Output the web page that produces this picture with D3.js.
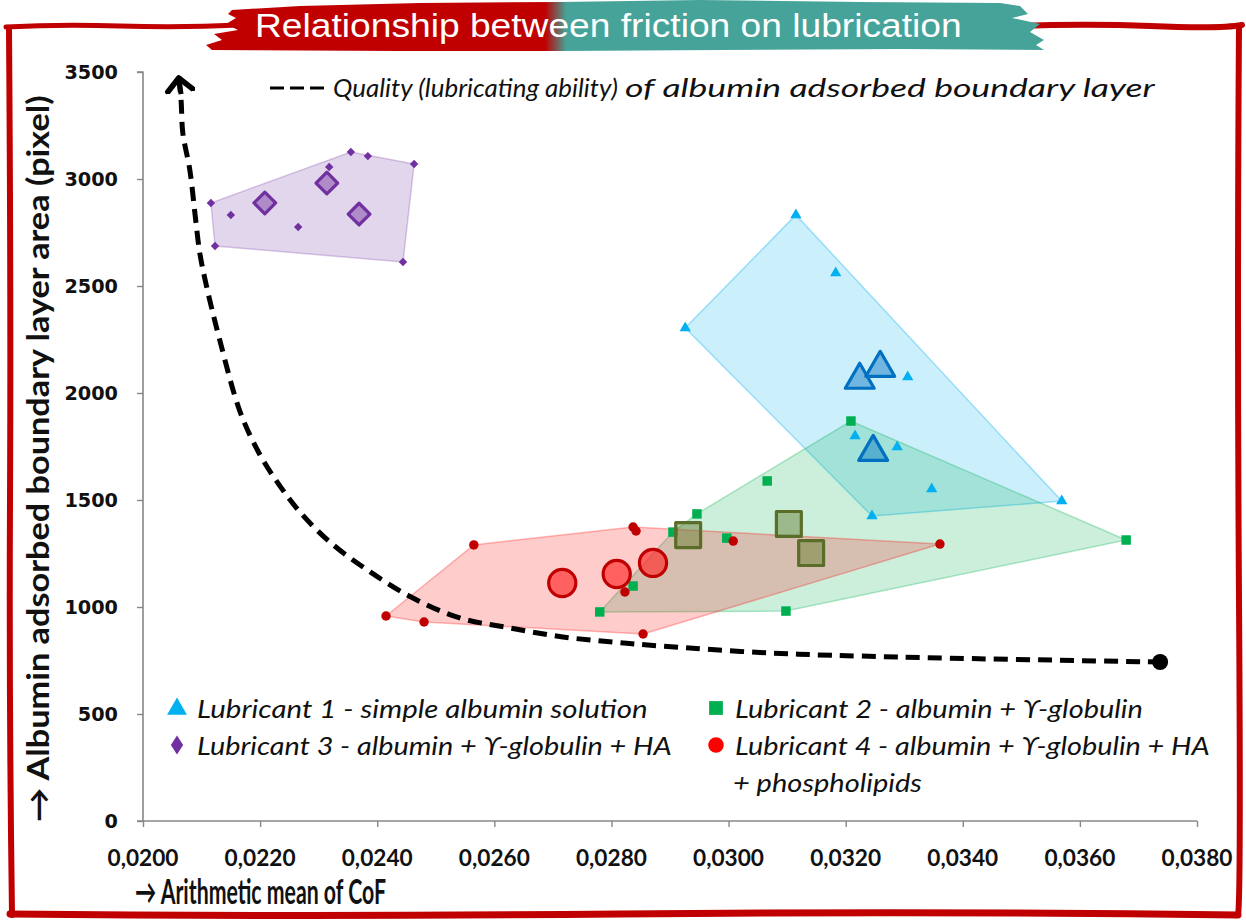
<!DOCTYPE html>
<html>
<head>
<meta charset="utf-8">
<script src="https://cdn.jsdelivr.net/npm/d3@7"></script>
<style>
  html, body { margin: 0; padding: 0; background: #fff; }
  svg { display: block; }
</style>
</head>
<body>
<svg id="chart" width="1246" height="920"></svg>
<script>
// ---- Data: arithmetic mean of CoF (x) vs albumin boundary layer area in pixels (y)
const lub1X = [0.03115, 0.03183, 0.02926, 0.03306, 0.03216, 0.03288, 0.03347, 0.03245, 0.03569];
const lub1Y = [2832, 2561, 2304, 2075, 1799, 1748, 1551, 1425, 1495];
const lub1MeanX = [0.03224, 0.03259, 0.03247];
const lub1MeanY = [2061, 2117, 1724];

const lub2X = [0.03209, 0.03066, 0.02946, 0.02905, 0.02997, 0.02837, 0.02780, 0.03098, 0.03679];
const lub2Y = [1869, 1589, 1435, 1350, 1322, 1098, 977, 981, 1313];
const lub2MeanX = [0.02931, 0.03103, 0.03141];
const lub2MeanY = [1336, 1388, 1252];

const lub3X = [0.02116, 0.02123, 0.02150, 0.02265, 0.02318, 0.02355, 0.02384, 0.02463, 0.02444];
const lub3Y = [2888, 2687, 2832, 2776, 3056, 3126, 3107, 3070, 2612];
const lub3MeanX = [0.02208, 0.02314, 0.02369];
const lub3MeanY = [2888, 2981, 2836];

const lub4X = [0.02415, 0.02480, 0.02565, 0.02837, 0.02842, 0.02823, 0.02854, 0.03008, 0.03361];
const lub4Y = [958, 930, 1290, 1374, 1355, 1070, 874, 1308, 1294];
const lub4MeanX = [0.02716, 0.02809, 0.02871];
const lub4MeanY = [1112, 1154, 1206];

// Hand-drawn quality trend (dashed arrow curve)
const trendX = [0.02061, 0.02065, 0.02068, 0.02080, 0.02089, 0.02097, 0.02108, 0.02131, 0.02166, 0.02200,
                0.02234, 0.02268, 0.02319, 0.02388, 0.02461, 0.02541, 0.02627, 0.02717, 0.02803, 0.02883,
                0.03071, 0.03293, 0.03737];
const trendY = [3472, 3369, 3215, 3042, 2832, 2654, 2505, 2248, 1911, 1710,
                1565, 1444, 1304, 1164, 1042, 949, 902, 860, 836, 818,
                785, 766, 743];

const xTicks = [0.020, 0.022, 0.024, 0.026, 0.028, 0.030, 0.032, 0.034, 0.036, 0.038];
const yTicks = [0, 500, 1000, 1500, 2000, 2500, 3000, 3500];

const seriesNames = [
  "Lubricant 1 - simple albumin solution",
  "Lubricant 2 - albumin + ϒ-globulin",
  "Lubricant 3 - albumin + ϒ-globulin + HA",
  "Lubricant 4 - albumin + ϒ-globulin + HA"
];
const title = "Relationship between friction on lubrication";

// ---- Setup
const svg = d3.select("#chart");
const x = d3.scaleLinear().domain([0.020, 0.038]).range([143, 1197]);
const y = d3.scaleLinear().domain([0, 3500]).range([821, 72]);
const zip = (xs, ys) => xs.map((v, i) => [v, ys[i]]);

const sansFont = "Lato, 'Open Sans', 'Noto Sans', sans-serif";

// Places a text node and squeezes/stretches it horizontally to a given width.
function fitText(node, tx, ty, width, anchor = "start", angle = 0) {
  const t = d3.select(node).attr("x", 0).attr("y", 0).attr("text-anchor", "start");
  const natural = node.getComputedTextLength() || width;
  const sx = width / natural;
  const dx = anchor === "end" ? -width : anchor === "middle" ? -width / 2 : 0;
  t.attr("transform", `translate(${tx},${ty}) rotate(${angle}) translate(${dx},0) scale(${sx},1)`);
}

const series = [
  { pts: zip(lub1X, lub1Y), means: zip(lub1MeanX, lub1MeanY), symbol: d3.symbolTriangle,
    dot: "#00b0f0", hullFill: "rgba(0,176,240,0.20)", hullStroke: "rgba(0,176,240,0.35)",
    meanFill: "rgba(0,112,192,0.45)", meanStroke: "#0070c0", smallSize: 55, meanSize: 360 },
  { pts: zip(lub2X, lub2Y), means: zip(lub2MeanX, lub2MeanY), symbol: d3.symbolSquare,
    dot: "#00b050", hullFill: "rgba(0,176,80,0.20)", hullStroke: "rgba(0,176,80,0.30)",
    meanFill: "rgba(95,120,40,0.45)", meanStroke: "#5a6e2a", smallSize: 90, meanSize: 620 },
  { pts: zip(lub3X, lub3Y), means: zip(lub3MeanX, lub3MeanY), symbol: d3.symbolDiamond2,
    dot: "#7030a0", hullFill: "rgba(112,48,160,0.20)", hullStroke: "rgba(112,48,160,0.25)",
    meanFill: "rgba(112,48,160,0.45)", meanStroke: "#7030a0", smallSize: 45, meanSize: 300 },
  { pts: zip(lub4X, lub4Y), means: zip(lub4MeanX, lub4MeanY), symbol: d3.symbolCircle,
    dot: "#c00000", hullFill: "rgba(255,0,0,0.20)", hullStroke: "rgba(255,0,0,0.28)",
    meanFill: "rgba(255,40,40,0.65)", meanStroke: "#c00000", smallSize: 70, meanSize: 580 }
];

// ---- Hulls enclosing each lubricant's measurements
const hullLayer = svg.append("g");
series.forEach(s => {
  const hull = d3.polygonHull(s.pts.map(p => [x(p[0]), y(p[1])]));
  hullLayer.append("path")
    .attr("d", "M" + hull.join("L") + "Z")
    .attr("fill", s.hullFill)
    .attr("stroke", s.hullStroke)
    .attr("stroke-width", 1.5);
});

// ---- Axes
const axisColor = "#878787";
const yAxis = svg.append("g").attr("transform", `translate(${x(0.020)},0)`)
  .call(d3.axisLeft(y).tickValues(yTicks).tickSize(6).tickFormat(""));
yAxis.select(".domain").attr("stroke", axisColor).attr("stroke-width", 1.6).attr("d", `M-6,${y(3500)}H0V${y(0)}H-6`);
yAxis.selectAll(".tick line").attr("stroke", axisColor).attr("stroke-width", 1.4);

const xAxis = svg.append("g").attr("transform", `translate(0,${y(0)})`)
  .call(d3.axisBottom(x).tickValues(xTicks).tickSize(6).tickFormat(""));
xAxis.select(".domain").attr("stroke", axisColor).attr("stroke-width", 1.6).attr("d", `M${x(0.020)},0H${x(0.038)}`);
xAxis.selectAll(".tick line").attr("stroke", axisColor).attr("stroke-width", 1.4);

// tick labels
svg.append("g").selectAll("text").data(yTicks).join("text")
  .attr("font-family", "'DejaVu Sans', Verdana, sans-serif")
  .attr("font-weight", "bold").attr("font-size", 19).attr("fill", "#111")
  .text(d => d)
  .each(function (d) { fitText(this, 118, y(d) + 7, String(d).length * 13.4, "end"); });

const commaFmt = d3.formatLocale({ decimal: ",", thousands: ".", grouping: [3], currency: ["", ""] }).format(".4f");
svg.append("g").selectAll("text").data(xTicks).join("text")
  .attr("font-family", sansFont).attr("font-weight", "bold").attr("font-size", 22)
  .attr("fill", "#111")
  .text(d => commaFmt(d))
  .each(function (d) { fitText(this, x(d), 866, 71, "middle"); });

// axis titles
svg.append("text")
  .attr("font-family", sansFont).attr("font-weight", "bold").attr("font-size", 30)
  .attr("fill", "#111")
  .text("→ Albumin adsorbed boundary layer area (pixel)")
  .each(function () { fitText(this, 49, 822, 727, "start", -90); });

svg.append("text")
  .attr("font-family", sansFont).attr("font-weight", "bold").attr("font-size", 34)
  .attr("fill", "#111")
  .text("→ Arithmetic mean of CoF")
  .each(function () { fitText(this, 135, 904, 251); });

// ---- Trend curve with arrow head
const defs = svg.append("defs");
defs.append("marker")
  .attr("id", "arrowHead")
  .attr("viewBox", "-12 -12 24 24")
  .attr("markerUnits", "userSpaceOnUse")
  .attr("markerWidth", 30).attr("markerHeight", 30)
  .attr("refX", 0).attr("refY", 0)
  .attr("orient", "auto-start-reverse")
  .append("path")
  .attr("d", "M-10,-10L0,0L-10,10")
  .attr("fill", "none").attr("stroke", "#000").attr("stroke-width", 4.5)
  .attr("stroke-linecap", "round").attr("stroke-linejoin", "round");

const trendLine = d3.line().x(d => x(d[0])).y(d => y(d[1])).curve(d3.curveCatmullRom.alpha(0.5));
const trendPts = zip(trendX, trendY);
svg.append("path")
  .attr("d", trendLine(trendPts))
  .attr("fill", "none").attr("stroke", "#000").attr("stroke-width", 5)
  .attr("stroke-dasharray", "14 8")
  .attr("marker-start", "url(#arrowHead)");
svg.append("path")
  .attr("d", `M${x(trendX[0])},${y(trendY[0])}L${x(trendX[1])},${y(trendY[1]) - 6}`)
  .attr("stroke", "#000").attr("stroke-width", 5);
svg.append("circle")
  .attr("cx", x(trendX[trendX.length - 1])).attr("cy", y(trendY[trendY.length - 1]))
  .attr("r", 8).attr("fill", "#000");

// ---- Markers: means (large, outlined) and individual measurements (small)
series.forEach(s => {
  const g = svg.append("g");
  g.selectAll("path.small").data(s.pts).join("path")
    .attr("class", "small")
    .attr("transform", d => `translate(${x(d[0])},${y(d[1])})`)
    .attr("d", d3.symbol(s.symbol, s.smallSize))
    .attr("fill", s.dot);
});
series.forEach(s => {
  const g = svg.append("g");
  g.selectAll("path.mean").data(s.means).join("path")
    .attr("class", "mean")
    .attr("transform", d => `translate(${x(d[0])},${y(d[1])})`)
    .attr("d", d3.symbol(s.symbol, s.meanSize))
    .attr("fill", s.meanFill)
    .attr("stroke", s.meanStroke).attr("stroke-width", 3.2)
    .attr("stroke-linejoin", "round");
});

// ---- Legend for the trend curve
svg.append("line")
  .attr("x1", 270).attr("x2", 324).attr("y1", 88).attr("y2", 88)
  .attr("stroke", "#000").attr("stroke-width", 3).attr("stroke-dasharray", "14 6");
svg.append("text")
  .attr("font-family", sansFont).attr("font-style", "italic").attr("font-size", 26)
  .attr("fill", "#111")
  .text("Quality (lubricating ability)")
  .each(function () { fitText(this, 333, 97, 285); });
svg.append("text")
  .attr("font-family", sansFont).attr("font-style", "italic").attr("font-size", 25)
  .attr("fill", "#111")
  .text("of albumin adsorbed boundary layer")
  .each(function () { fitText(this, 625, 97, 530); });

// ---- Series legend
const legendItems = [
  { sym: d3.symbolTriangle, size: 170, color: "#00b0f0", mx: 177, my: 709, tx: 197, ty: 718, w: 451, text: seriesNames[0] },
  { sym: d3.symbolSquare, size: 190, color: "#00b050", mx: 716, my: 708, tx: 735, ty: 718, w: 408, text: seriesNames[1] },
  { sym: d3.symbolDiamond2, size: 150, color: "#7030a0", mx: 177, my: 745, tx: 197, ty: 755, w: 475, text: seriesNames[2] },
  { sym: d3.symbolCircle, size: 190, color: "#ff0000", mx: 716, my: 745, tx: 735, ty: 755, w: 475, text: seriesNames[3] }
];
const lg = svg.append("g");
legendItems.forEach(it => {
  const tf = it.sym === d3.symbolDiamond2
    ? `translate(${it.mx},${it.my}) scale(0.8,1.25)`
    : `translate(${it.mx},${it.my})`;
  lg.append("path").attr("transform", tf).attr("d", d3.symbol(it.sym, it.size)).attr("fill", it.color);
  lg.append("text")
    .attr("font-family", sansFont).attr("font-style", "italic").attr("font-size", 26)
    .attr("fill", "#111")
    .text(it.text)
    .each(function () { fitText(this, it.tx, it.ty, it.w); });
});
lg.append("text")
  .attr("font-family", sansFont).attr("font-style", "italic").attr("font-size", 26)
  .attr("fill", "#111")
  .text("+ phospholipids")
  .each(function () { fitText(this, 733, 792, 189); });

// ---- Red sketched frame
const frame = svg.append("g").attr("fill", "none").attr("stroke", "#c00000")
  .attr("stroke-linecap", "round").attr("stroke-linejoin", "round");
frame.append("path").attr("stroke-width", 6)
  .attr("d", "M9,30 Q11,300 10,500 T12,915");
frame.append("path").attr("stroke-width", 7)
  .attr("d", "M10,914 Q300,917 620,914 T1238,915");
frame.append("path").attr("stroke-width", 6)
  .attr("d", "M1239,26 Q1237,300 1239,600 T1238,915");
frame.append("path").attr("stroke-width", 5)
  .attr("d", "M6,27 Q60,24 120,26 T240,25");
frame.append("path").attr("stroke-width", 6)
  .attr("d", "M985,27 Q1080,23 1150,26 T1242,25");

// ---- Title banner
const grad = defs.append("linearGradient").attr("id", "bannerGrad")
  .attr("gradientUnits", "userSpaceOnUse")
  .attr("x1", 205).attr("x2", 1045).attr("y1", 0).attr("y2", 0);
grad.append("stop").attr("offset", 0).attr("stop-color", "#c00000");
grad.append("stop").attr("offset", 0.405).attr("stop-color", "#c00000");
grad.append("stop").attr("offset", 0.43).attr("stop-color", "#45a399");
grad.append("stop").attr("offset", 1).attr("stop-color", "#45a399");
svg.append("path")
  .attr("fill", "url(#bannerGrad)")
  .attr("d", "M232,10 L300,6 L420,3 L560,2 L700,0 L860,2 L1000,3 L1020,6 L1028,14 L1012,18 L1040,24 " +
             "L1030,32 L1044,40 L1036,45 L1044,50 L900,49 L720,50 L560,51 L400,51 L212,50 L206,45 L222,40 " +
             "L214,34 L238,30 L226,24 L236,18 L228,14 Z");
svg.append("text")
  .attr("font-family", "'Liberation Sans', Arial, sans-serif").attr("font-size", 33)
  .attr("fill", "#fff")
  .text(title)
  .each(function () { fitText(this, 255, 37, 707); });
</script>
</body>
</html>
